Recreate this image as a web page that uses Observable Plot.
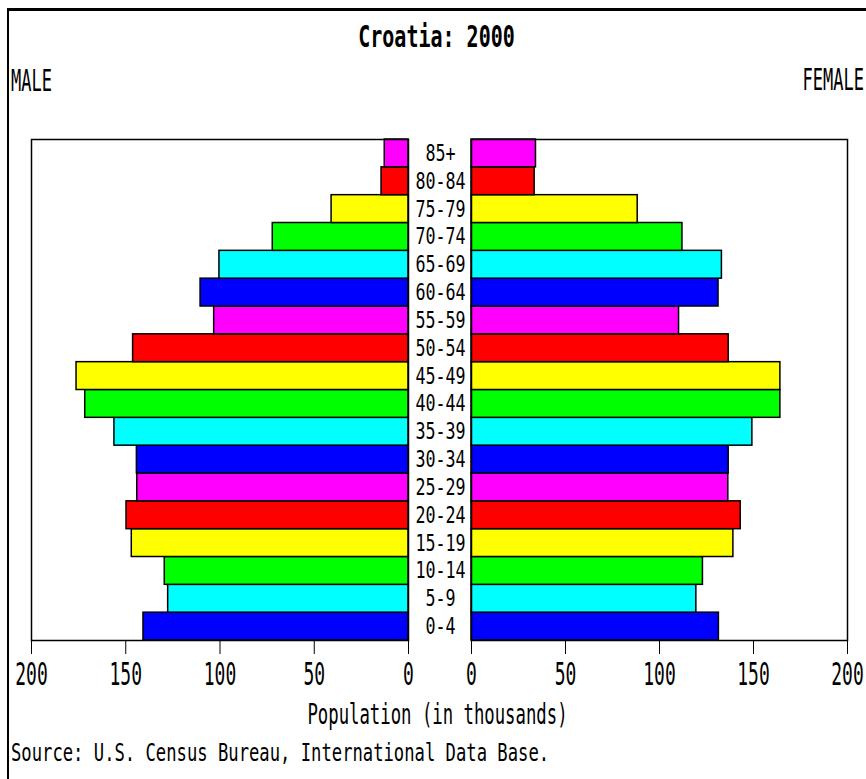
<!DOCTYPE html>
<html>
<head>
<meta charset="utf-8">
<script src="https://cdn.jsdelivr.net/npm/d3@7"></script>
<script src="https://cdn.jsdelivr.net/npm/@observablehq/plot@0.6"></script>
<style>
  body { margin: 0; background: #fff; }
  #root { position: relative; width: 866px; height: 779px; overflow: hidden; background: #fff;
          font-family: "DejaVu Sans Mono", monospace; color: #000; }
  .t { position: absolute; white-space: nowrap; }
  .t span { display: inline-block; }
  .plot { position: absolute; }
</style>
</head>
<body>
<div id="root"></div>
<script>
// ---- data (thousands) ----
const ages = ["0-4","5-9","10-14","15-19","20-24","25-29","30-34","35-39","40-44","45-49",
              "50-54","55-59","60-64","65-69","70-74","75-79","80-84","85+"];
const male = [140.6,127.5,129.3,146.8,149.6,143.9,144.1,156.0,171.5,176.1,
              146.1,103.1,110.3,100.3,72.0,40.8,14.3,12.6];
const female = [131.6,119.6,123.1,139.3,143.2,136.6,136.8,149.4,164.3,164.3,
                136.8,110.4,131.4,133.2,112.2,88.4,33.6,34.3];
const palette = ["#0000ff","#00ffff","#00ff00","#ffff00","#ff0000","#ff00ff"];
const xTicks = [0,50,100,150,200];
const titleText = "Croatia: 2000";
const maleText = "MALE";
const femaleText = "FEMALE";
const axisLabel = "Population (in thousands)";
const sourceText = "Source: U.S. Census Bureau, International Data Base.";

const maleData = ages.map((a,i) => ({age: a, value: male[i]}));
const femaleData = ages.map((a,i) => ({age: a, value: female[i]}));
const colorRange = ages.map((_, i) => palette[i % palette.length]);

const root = document.getElementById("root");

// frame lines of the image
const topLine = document.createElement("div");
Object.assign(topLine.style, {position:"absolute", left:"7px", top:"8px", width:"870px", height:"3px", background:"#000"});
const leftLine = document.createElement("div");
Object.assign(leftLine.style, {position:"absolute", left:"7px", top:"8px", width:"2px", height:"780px", background:"#000"});
root.appendChild(topLine); root.appendChild(leftLine);

function addText(str, o) {
  const d = document.createElement("div");
  d.className = "t";
  d.style.left = o.left + "px";
  d.style.width = o.width + "px";
  d.style.textAlign = o.align;
  d.style.top = (o.cy - o.fs / 2) + "px";
  d.style.fontSize = o.fs + "px";
  d.style.lineHeight = o.fs + "px";
  if (o.bold) d.style.fontWeight = "bold";
  const s = document.createElement("span");
  s.textContent = str;
  s.style.transform = `scale(${o.sx || 1}, ${o.sy})`;
  s.style.transformOrigin = o.align === "left" ? "left center" : o.align === "right" ? "right center" : "center center";
  d.appendChild(s);
  root.appendChild(d);
}

addText(titleText, {left: 136.5, width: 600, align: "center", cy: 36, fs: 20, sy: 1.5, bold: true});
addText(maleText, {left: 11, width: 200, align: "left", cy: 81, fs: 17, sy: 1.8});
addText(femaleText, {left: 464, width: 400, align: "right", cy: 80, fs: 17, sy: 1.8});
addText(axisLabel, {left: 137.5, width: 600, align: "center", cy: 716, fs: 17.3, sy: 1.6});
addText(sourceText, {left: 11, width: 800, align: "left", cy: 754, fs: 17.2, sy: 1.43});

const yDomain = ages.slice().reverse();
const style = {fontFamily: "DejaVu Sans Mono", fontSize: "18px", background: "transparent", overflow: "visible", color: "#000"};

const malePlot = Plot.plot({
  width: 440, height: 570,
  marginLeft: 31, marginRight: 32, marginTop: 19, marginBottom: 50,
  style,
  x: {domain: [0, 200], reverse: true, ticks: xTicks, tickSize: 14, tickPadding: 13, label: null},
  y: {domain: yDomain, padding: 0, round: false, axis: null},
  color: {domain: ages, range: colorRange},
  marks: [
    Plot.barX(maleData, {x: "value", y: "age", fill: "age", stroke: "black", strokeWidth: 1.5}),
    Plot.frame({stroke: "black", strokeWidth: 1.5})
  ]
});

const femalePlot = Plot.plot({
  width: 457, height: 570,
  marginLeft: 62, marginRight: 19, marginTop: 19, marginBottom: 50,
  style,
  x: {domain: [0, 200], ticks: xTicks, tickSize: 14, tickPadding: 13, label: null},
  y: {domain: yDomain, padding: 0, round: false, axis: null},
  color: {domain: ages, range: colorRange},
  marks: [
    Plot.barX(femaleData, {x: "value", y: "age", fill: "age", stroke: "black", strokeWidth: 1.5}),
    Plot.frame({stroke: "black", strokeWidth: 1.5}),
    Plot.text(ages, {y: d => d, text: d => d, frameAnchor: "left", dx: -31, textAnchor: "middle", fontSize: 16.7})
  ]
});

malePlot.classList.add("plot");
femalePlot.classList.add("plot");
malePlot.style.left = "0px"; malePlot.style.top = "120px";
femalePlot.style.left = "409px"; femalePlot.style.top = "120px";
root.appendChild(malePlot);
root.appendChild(femalePlot);

function stretch(svg, selector, sx, sy) {
  svg.querySelectorAll(selector).forEach(t => {
    const b = t.getBBox();
    const cx = b.x + b.width / 2, cy = b.y + b.height / 2;
    const orig = t.getAttribute("transform") || "";
    t.setAttribute("transform", `${orig} translate(${cx},${cy}) scale(${sx},${sy}) translate(${-cx},${-cy})`);
  });
}
stretch(malePlot, 'g[aria-label="x-axis tick label"] text', 1, 1.75);
stretch(femalePlot, 'g[aria-label="x-axis tick label"] text', 1, 1.75);
stretch(femalePlot, 'g[aria-label="text"] text', 1, 1.35);
</script>
</body>
</html>
